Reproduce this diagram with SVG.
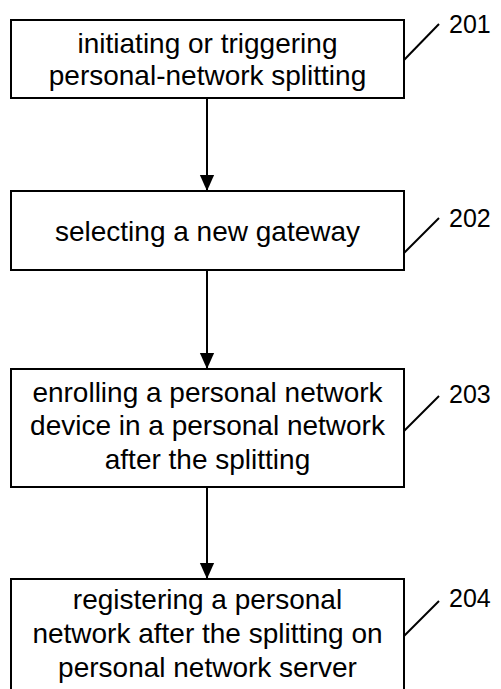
<svg xmlns="http://www.w3.org/2000/svg" width="501" height="689" viewBox="0 0 501 689">
<style>
.box{fill:#fff;stroke:#000;stroke-width:2}
.t{font-family:"Liberation Sans",Arial,sans-serif;font-size:28px;fill:#000;text-anchor:middle}
.n{font-family:"Liberation Sans",Arial,sans-serif;font-size:25px;fill:#000}
.ld{stroke:#000;stroke-width:2;fill:none}
.c{stroke:#000;stroke-width:2;fill:none;marker-end:url(#ah)}
</style>
<defs>
<marker id="ah" markerUnits="userSpaceOnUse" markerWidth="16" markerHeight="20" refX="18" refY="8" orient="auto" viewBox="0 0 18 16">
<path d="M0,0 L18,8 L0,16 Z" fill="#000"/>
</marker>
</defs>
<rect width="501" height="689" fill="#fff"/>
<g id="connectors">
<line class="c" x1="207" y1="98" x2="207" y2="191"/>
<line class="c" x1="207" y1="271" x2="207" y2="369"/>
<line class="c" x1="207" y1="488" x2="207" y2="579"/>
</g>
<g id="n201">
<rect class="box" x="11" y="20" width="393" height="78"/>
<text class="t" x="207.5" y="53">initiating or triggering</text>
<text class="t" x="207.5" y="85">personal-network splitting</text>
<line class="ld" x1="404" y1="60" x2="439" y2="24"/>
<text class="n" x="449" y="33">201</text>
</g>
<g id="n202">
<rect class="box" x="11" y="191" width="393" height="79"/>
<text class="t" x="207.5" y="241">selecting a new gateway</text>
<line class="ld" x1="404" y1="253" x2="439" y2="218"/>
<text class="n" x="449" y="227">202</text>
</g>
<g id="n203">
<rect class="box" x="11" y="369" width="393" height="118"/>
<text class="t" x="207.5" y="402">enrolling a personal network</text>
<text class="t" x="207.5" y="435">device in a personal network</text>
<text class="t" x="207.5" y="469">after the splitting</text>
<line class="ld" x1="404" y1="431" x2="439" y2="396"/>
<text class="n" x="449" y="403">203</text>
</g>
<g id="n204">
<rect class="box" x="11" y="579" width="393" height="125"/>
<text class="t" x="207.5" y="609">registering a personal</text>
<text class="t" x="207.5" y="643">network after the splitting on</text>
<text class="t" x="207.5" y="677">personal network server</text>
<line class="ld" x1="404" y1="636" x2="439" y2="601"/>
<text class="n" x="449" y="607">204</text>
</g>
</svg>
